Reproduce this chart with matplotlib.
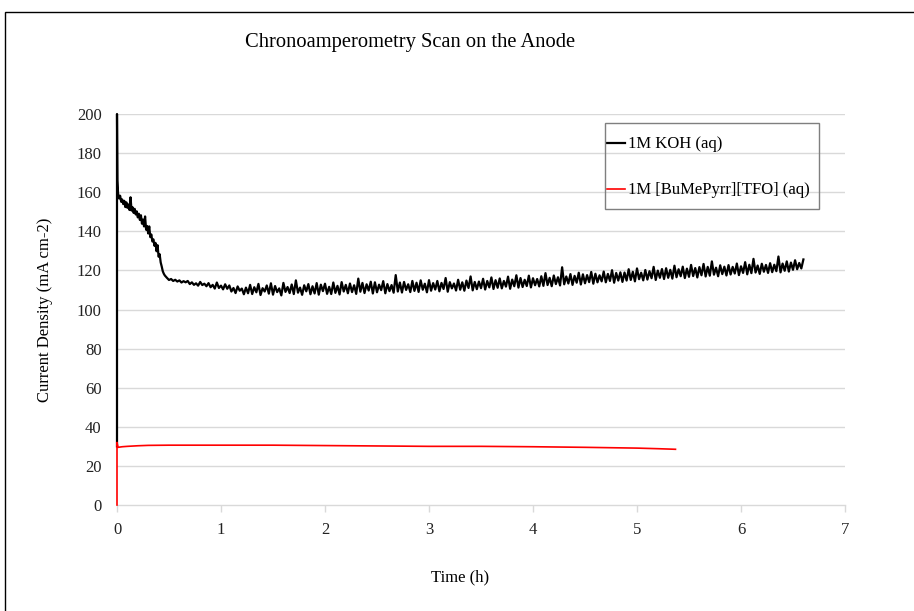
import numpy as np
import matplotlib
matplotlib.use("Agg")
import matplotlib.pyplot as plt
from matplotlib.patches import Rectangle

plt.rcParams['font.family'] = ['Liberation Serif', 'DejaVu Serif']

title = "Chronoamperometry Scan on the Anode"
xlabel = "Time (h)"
ylabel = "Current Density (mA cm-2)"
koh_label = "1M KOH (aq)"
il_label = "1M [BuMePyrr][TFO] (aq)"

# KOH: start-up spike
koh_t0 = [0.0, 0.0, 0.004]
koh_v0 = [30, 200, 166]
# KOH: sampled every 0.01 h from 0.01 h to 0.47 h
koh_a_start, koh_a_step = 0.01, 0.01
koh_va = [
    159.5, 156.8, 158.2, 155.1, 156.3, 153.9, 155.6, 152.4, 154.8, 152.0,
    153.7, 150.9, 157.4, 150.6, 152.3, 149.4, 151.5, 148.6, 150.2, 147.1,
    149.0, 145.8, 148.2, 143.9, 146.0, 142.5, 147.6, 140.8, 142.7, 138.9,
    142.5, 137.0, 138.4, 134.8, 135.9, 132.6, 134.1, 129.8, 132.9, 127.0,
    128.3, 124.1, 122.0, 119.6, 118.3, 117.4, 116.8,
]
# KOH: sampled every 0.02 h from 0.48 h to 6.60 h
koh_b_start, koh_b_step = 0.48, 0.02
koh_vb = [
    116.2, 115.1, 115.6, 114.6, 115.2, 114.3, 114.9, 113.8, 114.5, 113.9,
    114.6, 113.0, 113.9, 112.6, 113.4, 112.2, 114.1, 112.5, 113.2, 111.9,
    113.5, 111.4, 112.6, 110.7, 113.8, 111.0, 112.2, 110.3, 112.9, 110.6,
    112.3, 109.2, 111.0, 108.4, 111.8, 109.6, 110.7, 107.8, 111.2, 108.3,
    112.6, 107.9, 111.4, 108.8, 113.1, 107.4, 110.9, 109.2, 112.3, 108.1,
    113.4, 107.6, 112.0, 108.9, 110.8, 107.2, 113.6, 109.0, 111.5, 108.4,
    112.8, 107.9, 114.9, 108.6, 111.2, 107.5, 112.4, 109.3, 113.0, 107.8,
    111.9, 108.2, 113.5, 107.6, 112.7, 109.4, 113.2, 108.0, 111.6, 107.9,
    113.8, 108.5, 112.1, 107.7, 114.0, 109.2, 112.6, 108.3, 113.3, 108.9,
    112.4, 108.0, 115.8, 109.1, 113.6, 108.4, 112.9, 109.7, 114.2, 108.2,
    113.9, 108.8, 112.7, 109.9, 114.5, 108.3, 113.0, 109.4, 112.5, 108.6,
    117.6, 109.2, 113.8, 108.7, 114.1, 110.0, 112.9, 108.9, 114.6, 109.5,
    113.7, 109.0, 114.9, 110.1, 113.2, 108.8, 115.0, 109.6, 113.5, 110.2,
    114.6, 109.3, 113.6, 110.5, 116.1, 109.1, 114.0, 110.8, 113.3, 109.7,
    115.2, 110.1, 113.9, 109.6, 114.8, 111.0, 116.9, 109.8, 114.1, 110.4,
    114.3, 110.9, 115.7, 110.2, 114.6, 111.3, 116.4, 110.5, 115.0, 111.1,
    115.9, 110.8, 114.6, 111.7, 116.8, 110.6, 115.3, 111.9, 117.5, 111.2,
    116.1, 111.5, 115.2, 112.0, 117.3, 111.3, 116.0, 112.4, 115.6, 111.8,
    117.0, 112.1, 118.6, 112.5, 116.2, 111.9, 117.4, 113.0, 116.5, 112.3,
    121.6, 112.9, 116.9, 113.3, 118.1, 112.6, 117.2, 113.7, 118.8, 112.8,
    118.0, 113.4, 117.6, 114.0, 119.2, 113.2, 118.3, 113.9, 117.5, 114.4,
    119.4, 113.9, 118.2, 114.6, 120.1, 113.7, 118.7, 114.8, 119.0, 114.1,
    118.9, 114.8, 120.6, 115.1, 119.3, 114.4, 121.0, 115.5, 118.8, 114.9,
    120.2, 115.3, 119.6, 116.0, 121.8, 115.1, 119.9, 116.2, 120.7, 115.6,
    121.1, 116.2, 120.3, 115.8, 122.4, 116.5, 120.6, 117.0, 121.9, 116.1,
    120.9, 116.7, 122.8, 117.1, 121.2, 116.4, 121.7, 117.5, 123.3, 116.9,
    121.8, 117.3, 124.6, 117.8, 121.4, 117.0, 122.6, 118.1, 121.9, 117.4,
    122.7, 117.9, 121.8, 118.4, 123.5, 117.6, 122.1, 118.7, 124.2, 118.0,
    122.9, 118.6, 125.9, 118.9, 122.5, 118.2, 123.4, 119.3, 122.8, 118.7,
    123.7, 119.1, 122.9, 119.6, 127.1, 119.0, 123.5, 119.8, 124.6, 119.4,
    124.0, 120.3, 125.2, 120.6, 123.8, 121.0, 125.6,
]

il_t = [0.0, 0.0, 0.01, 0.05, 0.1, 0.2, 0.3, 0.5, 1.0, 1.5, 2.0, 2.5, 3.0,
        3.5, 4.0, 4.5, 5.0, 5.2, 5.37]
il_v = [0, 32, 29.5, 29.8, 30.0, 30.3, 30.5, 30.6, 30.6, 30.6, 30.4, 30.2,
        30.0, 30.0, 29.8, 29.5, 29.1, 28.8, 28.5]

x_ticks = [0, 1, 2, 3, 4, 5, 6, 7]
y_ticks = [0, 20, 40, 60, 80, 100, 120, 140, 160, 180, 200]

koh_ta = np.round(koh_a_start + koh_a_step * np.arange(len(koh_va)), 3)
koh_tb = np.round(koh_b_start + koh_b_step * np.arange(len(koh_vb)), 3)
koh_t = np.concatenate([koh_t0, koh_ta, koh_tb])
koh_v = np.concatenate([koh_v0, koh_va, koh_vb])

fig = plt.figure(figsize=(9.14, 6.11), dpi=100)
ax = fig.add_axes([117/914, 1-505/611, (845-117)/914, (505-114)/611])

grid_c = '#d9d9d9'
for yv in y_ticks[1:]:
    ax.axhline(yv, color=grid_c, lw=1.0, zorder=0)

ax.plot(koh_t, koh_v, color='black', lw=1.6, label=koh_label, zorder=3,
        clip_on=False)
ax.plot(il_t, il_v, color='#ff0000', lw=1.2, label=il_label, zorder=4,
        clip_on=False)

ax.set_xlim(0, 7)
ax.set_ylim(0, 200)
ax.set_xticks(x_ticks)
ax.set_yticks(y_ticks)
for s in ['top', 'right', 'left']:
    ax.spines[s].set_visible(False)
ax.spines['bottom'].set_color(grid_c)
ax.spines['bottom'].set_linewidth(1.0)
ax.tick_params(axis='x', direction='out', length=5, width=1, color=grid_c,
               labelsize=12, pad=7, labelcolor='#222222')
ax.tick_params(axis='y', length=0, labelsize=12, pad=11, labelcolor='#222222')
ax.spines['bottom'].set_zorder(2)

fig.text(410/914, 1-42/611, title, ha='center', va='center', fontsize=14.8)
fig.text(460/914, 1-577/611, xlabel, ha='center', va='center', fontsize=12)
fig.text(45/914, 1-310/611, ylabel, ha='center', va='center', fontsize=12,
         rotation=90)

leg = ax.legend(loc='center left',
                bbox_to_anchor=(605/914, 1-167.5/611), bbox_transform=fig.transFigure,
                fontsize=12, frameon=False, handlelength=1.1,
                handletextpad=0.2, labelspacing=1.8, borderpad=0.1,
                borderaxespad=0)
fig.add_artist(Rectangle((605/914, 1-209/611), (819-605)/914, (209-123)/611,
                         transform=fig.transFigure, fill=False,
                         edgecolor='#7f7f7f', lw=1.0))

fig.add_artist(Rectangle((5/914, -0.1), 1.2, 1 - 12/611 + 0.1,
                         transform=fig.transFigure, fill=False,
                         edgecolor='black', lw=1.0))

fig.savefig('out.png', dpi=100)
